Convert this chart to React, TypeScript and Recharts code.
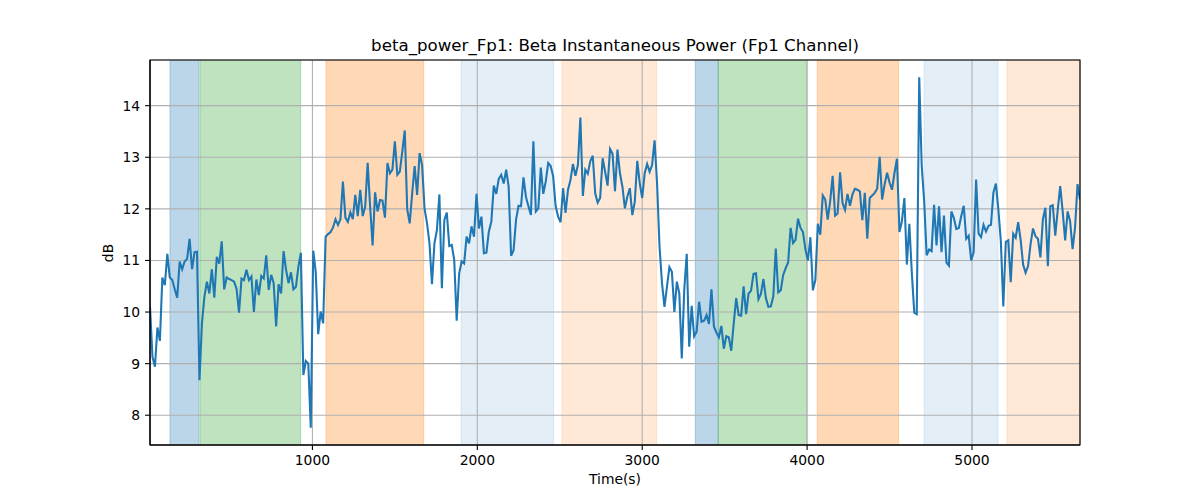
import React from 'react';
import { ComposedChart, Line, XAxis, YAxis, CartesianGrid, ReferenceArea } from 'recharts';

// sampling clock (s)
const T0 = 15;
const DT = 15;

// beta power (dB), in consecutive chunks
const betaA = [10.1, 9.13, 8.94, 9.7, 9.44, 10.67, 10.52, 11.13, 10.67, 10.62, 10.44, 10.28, 10.98, 10.83, 10.98, 11.03, 11.42, 10.83, 11.16, 11.17, 8.68, 9.78, 10.3, 10.59, 10.36, 10.83, 10.28, 11.07, 10.94, 11.37, 10.44, 10.67, 10.64, 10.62, 10.59, 10.45, 9.99, 10.65, 10.62, 10.82, 10.62, 10.69, 10.0, 10.63, 10.33, 10.7, 10.65, 11.1, 10.43, 10.72, 10.56, 9.72, 10.54, 10.36, 11.18, 10.82, 10.56, 10.77, 10.44, 10.49, 10.88, 11.15, 8.78, 9.05];
const betaB = [9.0, 7.76, 11.19, 10.78, 9.57, 10.01, 9.78, 11.46, 11.51, 11.55, 11.64, 11.8, 11.69, 11.8, 12.53, 11.83, 11.75, 11.93, 11.8, 12.27, 11.86, 12.37, 11.86, 12.04, 12.89, 12.04, 11.29, 12.32, 11.95, 12.17, 12.16, 11.83, 12.89, 12.69, 12.76, 13.31, 12.66, 12.72, 13.11, 13.52, 11.99, 11.72, 12.3, 12.83, 12.27, 13.08, 12.85, 12.01, 11.72, 11.33, 10.54, 11.33, 11.59, 12.28, 10.46, 11.78, 11.93, 11.28, 11.3, 11.01, 9.83, 10.75];
const betaC = [10.98, 10.94, 11.46, 11.33, 11.66, 11.46, 12.29, 11.62, 11.85, 11.14, 11.15, 11.56, 11.75, 12.45, 12.29, 12.58, 12.66, 12.49, 12.76, 12.43, 11.09, 11.2, 11.79, 12.06, 12.05, 12.61, 12.23, 12.05, 11.88, 13.31, 11.95, 12.01, 12.8, 12.29, 12.53, 12.89, 12.83, 12.63, 12.05, 11.85, 11.74, 12.4, 11.92, 12.37, 12.56, 12.87, 12.64, 12.85, 13.77, 12.25, 12.76, 12.68, 12.92, 13.03, 12.3, 12.12, 12.21, 12.98, 12.72, 12.45, 13.16, 13.07];
const betaD = [12.34, 13.15, 12.69, 12.43, 12.01, 12.24, 12.4, 11.88, 12.14, 12.93, 12.5, 12.21, 12.69, 12.87, 12.72, 12.85, 13.33, 12.5, 11.27, 10.56, 10.1, 10.49, 10.87, 10.78, 10.0, 10.59, 10.36, 9.1, 10.43, 11.13, 9.33, 10.12, 9.53, 9.62, 10.2, 9.81, 9.83, 9.94, 9.77, 10.44, 9.72, 9.6, 9.51, 9.73, 9.29, 9.53, 9.51, 9.25, 9.78, 10.27, 9.94, 9.93, 10.5, 9.96, 10.36, 10.41, 10.74, 10.75, 10.25, 10.35, 10.64, 10.27, 10.1];
const betaE = [10.11, 10.3, 11.23, 10.38, 10.42, 10.72, 10.85, 10.96, 11.63, 11.34, 11.4, 11.81, 11.63, 11.55, 11.21, 11.0, 11.45, 10.42, 10.62, 11.71, 11.5, 12.26, 12.18, 11.79, 12.15, 12.64, 11.87, 11.91, 12.71, 12.11, 11.98, 12.29, 12.06, 12.28, 12.39, 12.37, 12.34, 11.78, 12.31, 11.42, 12.21, 12.26, 12.31, 12.39, 13.01, 12.18, 12.47, 12.7, 12.51, 12.37, 12.7, 12.97, 11.55, 11.76, 12.21, 10.92, 11.71, 10.76, 9.99, 9.96];
const betaF = [14.55, 12.84, 12.15, 11.1, 11.21, 11.18, 12.08, 11.29, 12.05, 11.16, 11.87, 10.96, 10.9, 11.95, 11.82, 11.61, 11.63, 11.86, 12.06, 11.42, 11.48, 11.0, 11.16, 12.57, 11.52, 11.45, 11.69, 11.56, 11.67, 11.69, 12.32, 12.49, 11.98, 11.37, 10.11, 11.36, 11.39, 10.58, 11.52, 11.44, 11.74, 11.4, 10.92, 10.76, 10.89, 11.31, 11.62, 11.47, 11.42, 11.06, 11.8, 12.02, 10.89, 12.05, 12.07, 11.48, 11.98, 12.44, 11.95, 11.39, 11.95, 11.76, 11.22, 11.63, 12.48, 12.18];

const betaValues = [...betaA, ...betaB, ...betaC, ...betaD, ...betaE, ...betaF];

// shaded intervals (s)
const bandStart = [136, 318, 1082, 1901, 2513, 3322, 3461, 4062, 4709, 5212];
const bandEnd = [312, 929, 1675, 2463, 3088, 3461, 3999, 4555, 5158, 5655];
const bandKind = ['blue', 'green', 'orange', 'lightblue', 'lightorange', 'blue', 'green', 'orange', 'lightblue', 'lightorange'];

const xTicks = [1000, 2000, 3000, 4000, 5000];
const yTicks = [8, 9, 10, 11, 12, 13, 14];
const Y_MIN = 7.423;
const Y_MAX = 14.885;

const bandStyle: Record<string, { color: string; alpha: number }> = {
  blue: { color: '#1f77b4', alpha: 0.3 },
  green: { color: '#2ca02c', alpha: 0.3 },
  orange: { color: '#ff7f0e', alpha: 0.3 },
  lightblue: { color: '#1f77b4', alpha: 0.12 },
  lightorange: { color: '#ff7f0e', alpha: 0.17 },
};

const data = betaValues.map((v, i) => ({ t: T0 + i * DT, v }));
const T_MAX = T0 + (betaValues.length - 1) * DT;

const FONT = "'DejaVu Sans', sans-serif";
const tickStyle = { fontFamily: FONT, fontSize: 13.89, fill: '#000' };

export default function App() {
  const extra: any = {};
  return (
    <div style={{ position: 'absolute', left: 0, top: 0, width: 1200, height: 500, background: '#fff' }}>
      <ComposedChart width={1200} height={500} data={data} margin={{ top: 60, right: 120, bottom: 25, left: 90 }}>
        {bandStart.map((s, i) => {
          const st = bandStyle[bandKind[i]];
          return (
            <ReferenceArea
              key={'b' + i}
              x1={s}
              x2={bandEnd[i]}
              y1={Y_MIN}
              y2={Y_MAX}
              fill={st.color}
              fillOpacity={st.alpha}
              stroke={st.color}
              strokeOpacity={st.alpha}
              strokeWidth={1}
              ifOverflow="hidden"
              {...({ zIndex: -200 } as any)}
            />
          );
        })}
        <CartesianGrid stroke="#b0b0b0" strokeWidth={1.1} {...({ zIndex: -100 } as any)} />
        <XAxis
          dataKey="t"
          type="number"
          domain={[T0, T_MAX]}
          ticks={xTicks}
          allowDataOverflow
          height={30}
          tickSize={4.9}
          tickMargin={5.5}
          tick={tickStyle}
          axisLine={{ stroke: '#000', strokeWidth: 1.1 }}
          tickLine={{ stroke: '#000', strokeWidth: 1.1 }}
        />
        <YAxis
          type="number"
          domain={[Y_MIN, Y_MAX]}
          ticks={yTicks}
          allowDataOverflow
          width={60}
          tickSize={4.9}
          tickMargin={4.9}
          tick={tickStyle}
          axisLine={{ stroke: '#000', strokeWidth: 1.1 }}
          tickLine={{ stroke: '#000', strokeWidth: 1.1 }}
        />
        <Line
          dataKey="v"
          type="linear"
          stroke="#1f77b4"
          strokeWidth={2.08}
          dot={false}
          activeDot={false}
          isAnimationActive={false}
        />
        <ReferenceArea
          x1={T0}
          x2={T_MAX}
          y1={Y_MIN}
          y2={Y_MAX}
          fill="none"
          stroke="#000"
          strokeWidth={1.1}
          ifOverflow="visible"
          {...({ zIndex: 600 } as any)}
        />
      </ComposedChart>
      <div
        style={{
          position: 'absolute', left: 150, top: 37.6, width: 930, textAlign: 'center',
          fontFamily: FONT, fontSize: 16.67, lineHeight: '16.67px', color: '#000', whiteSpace: 'nowrap',
        }}
      >
        beta_power_Fp1: Beta Instantaneous Power (Fp1 Channel)
      </div>
      <div
        style={{
          position: 'absolute', left: 150, top: 473, width: 930, textAlign: 'center',
          fontFamily: FONT, fontSize: 13.89, lineHeight: '13.89px', color: '#000', whiteSpace: 'nowrap',
        }}
      >
        Time(s)
      </div>
      <div
        style={{
          position: 'absolute', left: 109, top: 252.5, transform: 'translate(-50%, -50%) rotate(-90deg)',
          fontFamily: FONT, fontSize: 13.89, lineHeight: '13.89px', color: '#000', whiteSpace: 'nowrap',
        }}
      >
        dB
      </div>
    </div>
  );
}
